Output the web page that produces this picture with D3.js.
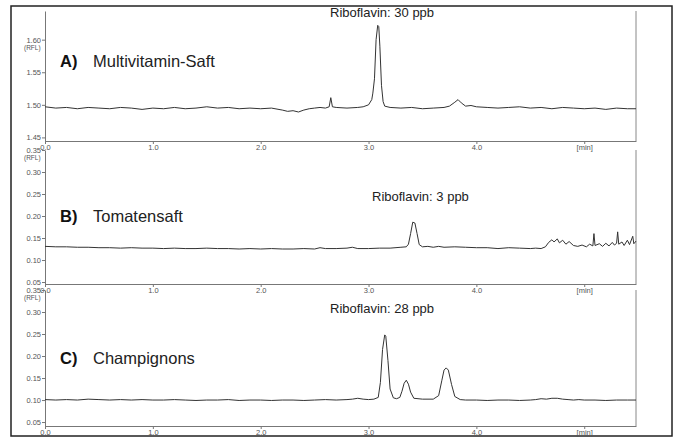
<!DOCTYPE html>
<meta charset="utf-8">
<script src="https://d3js.org/d3.v7.min.js"></script>
<style>
  body { margin: 0; background: #fff; }
  text { font-family: "Liberation Sans", Arial, sans-serif; }
</style>
<div id="chart"></div>
<script>

// x ticks (minutes), last one is the unit label
var timeTicks = [0, 1, 2, 3, 4, 5];
var timeLabels = ["0.0", "1.0", "2.0", "3.0", "4.0", "[min]"];

var ticksA = [1.45, 1.50, 1.55, 1.60];
var ticksBC = [0.05, 0.10, 0.15, 0.20, 0.25, 0.30, 0.35];

var titles = ["Multivitamin-Saft", "Tomatensaft", "Champignons"];
var letters = ["A)", "B)", "C)"];
var notes = ["Riboflavin: 30 ppb", "Riboflavin: 3 ppb", "Riboflavin: 28 ppb"];

// traces: [time, signal]
var traceA = [[0.0,1.497],[0.1,1.495],[0.2,1.496],[0.3,1.494],[0.4,1.496],[0.5,1.495],[0.6,1.494],[0.7,1.496],
  [0.8,1.495],[0.9,1.493],[1.0,1.495],[1.1,1.494],[1.2,1.496],[1.3,1.494],[1.4,1.495],[1.5,1.497],[1.6,1.495],
  [1.7,1.496],[1.8,1.494],[1.9,1.495],[2.0,1.494],[2.1,1.495],[2.2,1.492],[2.25,1.490],[2.3,1.491],[2.35,1.489],
  [2.4,1.492],[2.45,1.494],[2.5,1.495],[2.55,1.496],[2.6,1.495],[2.635,1.497],[2.65,1.511],[2.665,1.497],[2.7,1.496],
  [2.8,1.495],[2.9,1.496],[2.95,1.497],[3.0,1.500],[3.03,1.508],[3.04,1.518],[3.055,1.540],[3.07,1.600],[3.085,1.622],
  [3.095,1.620],[3.105,1.590],[3.12,1.530],[3.135,1.505],[3.15,1.498],[3.2,1.496],[3.3,1.495],[3.4,1.496],[3.5,1.494],
  [3.6,1.495],[3.7,1.496],[3.75,1.498],[3.8,1.504],[3.83,1.508],[3.86,1.503],[3.9,1.498],[3.95,1.499],[4.0,1.497],
  [4.1,1.496],[4.2,1.495],[4.3,1.496],[4.4,1.497],[4.5,1.495],[4.6,1.496],[4.7,1.494],[4.8,1.496],[4.9,1.495],
  [5.0,1.494],[5.1,1.495],[5.2,1.493],[5.3,1.495],[5.4,1.494],[5.48,1.494]];

var traceB = [[0.0,0.131],[0.1,0.130],[0.2,0.130],[0.3,0.129],[0.4,0.129],[0.5,0.128],[0.6,0.128],[0.7,0.127],
  [0.8,0.128],[0.9,0.127],[1.0,0.127],[1.1,0.126],[1.2,0.127],[1.3,0.126],[1.4,0.126],[1.5,0.127],[1.6,0.126],
  [1.7,0.126],[1.8,0.125],[1.9,0.126],[2.0,0.125],[2.1,0.126],[2.2,0.125],[2.3,0.125],[2.4,0.126],[2.5,0.125],
  [2.55,0.128],[2.6,0.126],[2.7,0.126],[2.8,0.127],[2.85,0.129],[2.9,0.126],[3.0,0.126],[3.1,0.127],[3.2,0.127],
  [3.3,0.129],[3.35,0.130],[3.37,0.136],[3.39,0.160],[3.41,0.186],[3.43,0.184],[3.45,0.160],[3.47,0.135],[3.5,0.130],
  [3.55,0.131],[3.6,0.129],[3.65,0.131],[3.7,0.129],[3.8,0.130],[3.9,0.129],[4.0,0.128],[4.1,0.128],[4.2,0.126],
  [4.3,0.128],[4.4,0.127],[4.5,0.126],[4.55,0.127],[4.6,0.126],[4.64,0.130],[4.67,0.140],[4.7,0.146],[4.72,0.141],
  [4.75,0.148],[4.77,0.139],[4.8,0.145],[4.83,0.136],[4.86,0.142],[4.9,0.133],[4.94,0.131],[4.98,0.134],[5.02,0.130],
  [5.05,0.136],[5.08,0.132],[5.09,0.160],[5.1,0.133],[5.14,0.137],[5.17,0.131],[5.2,0.138],[5.23,0.132],[5.26,0.140],
  [5.28,0.134],[5.3,0.138],[5.31,0.164],[5.32,0.136],[5.35,0.141],[5.37,0.133],[5.4,0.145],[5.42,0.135],[5.45,0.154],
  [5.46,0.137],[5.48,0.143]];

var traceC = [[0.0,0.101],[0.1,0.100],[0.2,0.101],[0.3,0.100],[0.4,0.102],[0.5,0.101],[0.6,0.100],[0.7,0.101],
  [0.8,0.100],[0.9,0.101],[1.0,0.100],[1.1,0.100],[1.2,0.101],[1.3,0.100],[1.4,0.099],[1.5,0.100],[1.6,0.100],
  [1.7,0.101],[1.8,0.099],[1.9,0.100],[2.0,0.100],[2.1,0.099],[2.2,0.100],[2.3,0.100],[2.4,0.099],[2.5,0.100],
  [2.6,0.101],[2.7,0.100],[2.8,0.101],[2.85,0.102],[2.9,0.104],[2.95,0.102],[3.0,0.101],[3.05,0.102],[3.09,0.106],
  [3.11,0.140],[3.13,0.215],[3.15,0.248],[3.16,0.245],[3.18,0.190],[3.2,0.125],[3.23,0.105],[3.26,0.103],[3.29,0.106],
  [3.31,0.120],[3.33,0.138],[3.35,0.145],[3.37,0.136],[3.39,0.118],[3.42,0.104],[3.5,0.102],[3.6,0.102],[3.65,0.110],
  [3.68,0.145],[3.7,0.168],[3.72,0.173],[3.74,0.168],[3.77,0.135],[3.8,0.108],[3.85,0.101],[3.9,0.100],[4.0,0.100],
  [4.1,0.099],[4.2,0.100],[4.3,0.100],[4.4,0.099],[4.5,0.100],[4.55,0.101],[4.6,0.103],[4.65,0.102],[4.7,0.104],
  [4.75,0.104],[4.8,0.102],[4.85,0.101],[4.9,0.100],[4.95,0.101],[5.0,0.100],[5.1,0.100],[5.2,0.099],[5.3,0.100],
  [5.4,0.100],[5.48,0.100]];

var traces = [traceA, traceB, traceC];

var W = 679, H = 439;
var svg = d3.select("#chart").append("svg").attr("width", W).attr("height", H);

// outer frame
svg.append("rect").attr("x", 11).attr("y", 6).attr("width", 661).attr("height", 430)
  .attr("fill", "none").attr("stroke", "#222").attr("stroke-width", 1.5);

var x = d3.scaleLinear().domain([0, 5.48]).range([45, 636]);

// vertical layout of the three panels
var panels = [
  {top: 11, bottom: 141, domain: [1.4445, 1.644], ticks: ticksA, textY: 67, noteX: 330, noteY: 17},
  {top: 150, bottom: 284, domain: [0.0455, 0.35], ticks: ticksBC, textY: 222, noteX: 372, noteY: 201},
  {top: 290, bottom: 426, domain: [0.041, 0.35], ticks: ticksBC, textY: 364, noteX: 330, noteY: 313}
];

panels.forEach(function(p, i) {
  var y = d3.scaleLinear().domain(p.domain).range([p.bottom, p.top]);
  var g = svg.append("g");

  // left + bottom axes
  var ya = g.append("g").attr("transform", "translate(45,0)")
    .call(d3.axisLeft(y).tickValues(p.ticks).tickFormat(d3.format(".2f")).tickSize(3).tickSizeOuter(0));
  var xa = g.append("g").attr("transform", "translate(0," + p.bottom + ")")
    .call(d3.axisBottom(x).tickValues(timeTicks).tickFormat(function(d, k) { return timeLabels[k]; })
      .tickSize(3).tickSizeOuter(0));
  [ya, xa].forEach(function(a) {
    a.select(".domain").attr("stroke", "#777");
    a.selectAll(".tick line").attr("stroke", "#777");
    a.selectAll(".tick text").attr("fill", "#555").style("font-size", "7.5px");
  });
  xa.selectAll(".tick text").attr("dy", "0.4em");
  ya.selectAll(".tick text").attr("dx", "2px");

  // right border of the panel
  g.append("line").attr("x1", 636).attr("x2", 636).attr("y1", p.top).attr("y2", p.bottom)
    .attr("stroke", "#888");

  g.append("text").attr("x", 24).attr("y", y(p.ticks[p.ticks.length - 1]) + 10)
    .text("(RFL)").style("font-size", "6.5px").attr("fill", "#555");

  // trace
  g.append("path").datum(traces[i])
    .attr("d", d3.line().x(function(d) { return x(d[0]); }).y(function(d) { return y(d[1]); }))
    .attr("fill", "none").attr("stroke", "#333").attr("stroke-width", 1);

  g.append("text").attr("x", 60).attr("y", p.textY).text(letters[i])
    .style("font-size", "16.5px").style("font-weight", "bold").attr("fill", "#111");
  g.append("text").attr("x", 93).attr("y", p.textY).text(titles[i])
    .style("font-size", "16.5px").attr("fill", "#222");
  g.append("text").attr("x", p.noteX).attr("y", p.noteY).text(notes[i])
    .style("font-size", "13px").attr("fill", "#222");
});

</script>
